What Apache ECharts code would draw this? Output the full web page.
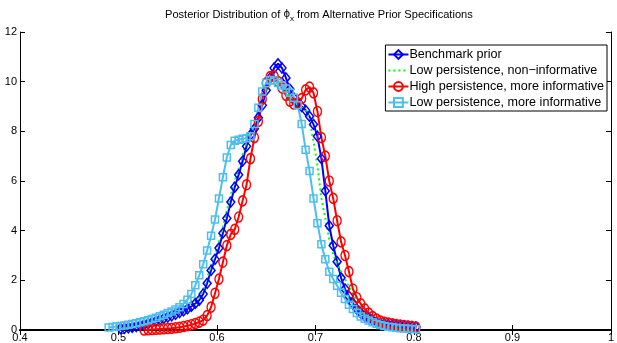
<!DOCTYPE html>
<html>
<head>
<meta charset="utf-8">
<script src="https://cdn.jsdelivr.net/npm/echarts@6/dist/echarts.min.js"></script>
<style>
  html, body { margin: 0; padding: 0; background: #fff; }
  #chart { width: 617px; height: 343px; }
</style>
</head>
<body>
<div id="chart"></div>
<script>
// common evaluation grid for phi_x
const xs = [
  0.490, 0.494, 0.498, 0.502, 0.506, 0.510, 0.514, 0.518, 0.522, 0.526,
  0.530, 0.534, 0.538, 0.542, 0.546, 0.550, 0.554, 0.558, 0.562, 0.566,
  0.570, 0.574, 0.578, 0.582, 0.586, 0.590, 0.594, 0.598, 0.602, 0.606,
  0.610, 0.614, 0.618, 0.622, 0.626, 0.630, 0.634, 0.638, 0.642, 0.646,
  0.650, 0.654, 0.658, 0.662, 0.666, 0.670, 0.674, 0.678, 0.682, 0.686,
  0.690, 0.694, 0.698, 0.702, 0.706, 0.710, 0.714, 0.718, 0.722, 0.726,
  0.730, 0.734, 0.738, 0.742, 0.746, 0.750, 0.754, 0.758, 0.762, 0.766,
  0.770, 0.774, 0.778, 0.782, 0.786, 0.790, 0.794, 0.798, 0.802
];

const benchmark = [
  null, null, null, 0.06, 0.07, 0.09, 0.11, 0.14, 0.17, 0.21,
  0.25, 0.30, 0.35, 0.41, 0.47, 0.52, 0.57, 0.63, 0.70, 0.77,
  0.85, 0.95, 1.07, 1.20, 1.45, 1.88, 2.40, 2.85, 3.30, 3.90,
  4.50, 5.15, 5.75, 6.25, 6.80, 7.40, 7.85, 8.10, 8.55, 9.05,
  9.65, 10.15, 10.55, 10.72, 10.55, 10.15, 9.70, 9.35, 9.15, 9.00,
  8.85, 8.60, 8.28, 7.80, 6.90, 5.60, 4.20, 3.40, 2.75, 2.10,
  1.65, 1.36, 1.08, 0.84, 0.68, 0.55, 0.46, 0.38, 0.32, 0.27,
  0.24, 0.21, 0.19, 0.18, 0.17, 0.16, 0.15, 0.14, 0.12
];

const lowNonInf = [
  null, null, null, 0.06, 0.08, 0.10, 0.12, 0.15, 0.18, 0.22,
  0.26, 0.31, 0.36, 0.42, 0.48, 0.54, 0.60, 0.67, 0.74, 0.82,
  0.91, 1.02, 1.16, 1.32, 1.62, 2.08, 2.60, 3.05, 3.55, 4.15,
  4.80, 5.45, 6.00, 6.50, 7.05, 7.60, 8.00, 8.30, 8.75, 9.25,
  9.75, 10.10, 10.25, 10.15, 9.95, 9.65, 9.35, 9.15, 9.05, 8.95,
  8.90, 8.45, 7.60, 6.60, 5.30, 4.50, 3.65, 3.05, 2.65, 2.35,
  2.05, 1.75, 1.45, 1.15, 0.90, 0.70, 0.55, 0.44, 0.36, 0.30,
  0.25, 0.21, 0.18, 0.16, 0.14, 0.13, 0.12, 0.11, 0.10
];

const highMoreInf = [
  null, null, null, null, null, null, null, null, null, 0.00,
  0.01, 0.02, 0.03, 0.04, 0.05, 0.06, 0.07, 0.09, 0.11, 0.14,
  0.17, 0.21, 0.26, 0.32, 0.40, 0.58, 0.92, 1.48, 2.05, 2.73,
  3.40, 3.85, 4.05, 4.55, 5.20, 5.85, 6.90, 7.75, 8.40, 9.30,
  9.95, 10.20, 10.22, 10.00, 9.75, 9.45, 9.22, 9.10, 9.15, 9.32,
  9.67, 9.78, 9.55, 8.80, 7.75, 7.00, 6.00, 5.30, 4.40, 3.55,
  3.00, 2.35, 1.65, 1.30, 1.05, 0.85, 0.68, 0.54, 0.44, 0.36,
  0.31, 0.28, 0.25, 0.22, 0.20, 0.18, 0.16, 0.14, 0.12
];

const lowMoreInf = [
  0.10, 0.12, 0.14, 0.16, 0.18, 0.21, 0.24, 0.27, 0.31, 0.35,
  0.39, 0.44, 0.49, 0.55, 0.61, 0.68, 0.75, 0.83, 0.92, 1.05,
  1.22, 1.45, 1.80, 2.20, 2.65, 3.20, 3.80, 4.45, 5.30, 6.15,
  6.95, 7.45, 7.62, 7.66, 7.70, 7.72, 7.80, 8.30, 8.95, 9.60,
  9.95, 10.07, 10.05, 9.95, 9.85, 9.72, 9.55, 9.35, 9.05, 8.30,
  7.26, 6.40, 5.30, 4.30, 3.45, 2.85, 2.35, 2.05, 1.78, 1.50,
  1.25, 1.02, 0.85, 0.68, 0.54, 0.45, 0.38, 0.31, 0.25, 0.20,
  0.16, 0.13, 0.11, 0.09, 0.07, 0.06, 0.05, 0.04, 0.03
];

const seriesNames = [
  'Benchmark prior',
  'Low persistence, non\u2212informative',
  'High persistence, more informative',
  'Low persistence, more informative'
];

function pairs(ys) {
  const out = [];
  ys.forEach((y, i) => { if (y !== null) out.push([xs[i], y]); });
  return out;
}

const FONT = '"Liberation Sans", Arial, Helvetica, sans-serif';
const hollow = 'rgba(255,255,255,0)';

const chart = echarts.init(document.getElementById('chart'), null, { renderer: 'canvas' });

const option = {
  animation: false,
  backgroundColor: '#fff',
  textStyle: { fontFamily: FONT, color: '#000' },
  title: {
    text: 'Posterior Distribution of {phi|\u03d5}{sub|x} from Alternative Prior Specifications',
    left: 160,
    top: 1,
    textStyle: {
      fontFamily: FONT,
      fontSize: 11.1,
      fontWeight: 'normal',
      color: '#000',
      rich: {
        phi: { fontFamily: '"DejaVu Sans", sans-serif', fontSize: 10, color: '#000' },
        sub: { fontFamily: FONT, fontSize: 8, color: '#000', padding: [9, 0, 0, 0] }
      }
    }
  },
  legend: {
    data: [
      seriesNames[0],
      { name: seriesNames[1], itemStyle: { color: hollow, borderWidth: 0 } },
      seriesNames[2],
      seriesNames[3]
    ],
    orient: 'vertical',
    right: 10,
    top: 45,
    backgroundColor: '#fff',
    borderColor: '#000',
    borderWidth: 1,
    borderRadius: 0,
    padding: [3, 3, 2, 2],
    itemGap: 3,
    itemWidth: 20,
    itemHeight: 11,
    textStyle: { fontFamily: FONT, fontSize: 12.6, color: '#000', padding: [0, 0, 0, -4] }
  },
  grid: { left: 20, right: 1, top: 32, bottom: 12, containLabel: false },
  xAxis: [
    {
      type: 'value', min: 0.4, max: 1, interval: 0.1, position: 'bottom',
      axisLine: { show: true, lineStyle: { color: '#000', width: 2 } },
      axisTick: { show: true, inside: true, length: 5, lineStyle: { color: '#000' } },
      axisLabel: { color: '#000', fontSize: 11, fontFamily: FONT, margin: 2 },
      splitLine: { show: false }
    },
    {
      type: 'value', min: 0.4, max: 1, interval: 0.1, position: 'top',
      axisLine: { show: true, lineStyle: { color: '#000', width: 1 } },
      axisTick: { show: true, inside: true, length: 5, lineStyle: { color: '#000' } },
      axisLabel: { show: false },
      splitLine: { show: false }
    }
  ],
  yAxis: [
    {
      type: 'value', min: 0, max: 12, interval: 2, position: 'left',
      axisLine: { show: true, lineStyle: { color: '#000', width: 1 } },
      axisTick: { show: true, inside: true, length: 5, lineStyle: { color: '#000' } },
      axisLabel: { color: '#000', fontSize: 11, fontFamily: FONT, margin: 3 },
      splitLine: { show: false }
    },
    {
      type: 'value', min: 0, max: 12, interval: 2, position: 'right',
      axisLine: { show: true, lineStyle: { color: '#000', width: 1 } },
      axisTick: { show: true, inside: true, length: 5, lineStyle: { color: '#000' } },
      axisLabel: { show: false },
      splitLine: { show: false }
    }
  ],
  series: [
    {
      name: seriesNames[0], type: 'line', data: pairs(benchmark),
      color: '#0000ff',
      symbol: 'diamond', symbolSize: [8, 10], showAllSymbol: true,
      lineStyle: { color: '#0000ff', width: 2 },
      itemStyle: { color: hollow, borderColor: '#0000ff', borderWidth: 1.5 }
    },
    {
      name: seriesNames[1], type: 'line', data: pairs(lowNonInf),
      color: '#00ff00',
      symbol: 'none',
      lineStyle: { color: '#00ff00', width: 2, type: [2, 3] },
      itemStyle: { color: '#00ff00' }
    },
    {
      name: seriesNames[2], type: 'line', data: pairs(highMoreInf),
      color: '#ff0000',
      symbol: 'circle', symbolSize: [8, 10], showAllSymbol: true,
      lineStyle: { color: '#ff0000', width: 2 },
      itemStyle: { color: hollow, borderColor: '#ff0000', borderWidth: 1.5 }
    },
    {
      name: seriesNames[3], type: 'line', data: pairs(lowMoreInf),
      color: '#4dbeee',
      symbol: 'rect', symbolSize: 7, showAllSymbol: true,
      lineStyle: { color: '#4dbeee', width: 2 },
      itemStyle: { color: hollow, borderColor: '#4dbeee', borderWidth: 1.5 }
    }
  ]
};

chart.setOption(option);
</script>
</body>
</html>
